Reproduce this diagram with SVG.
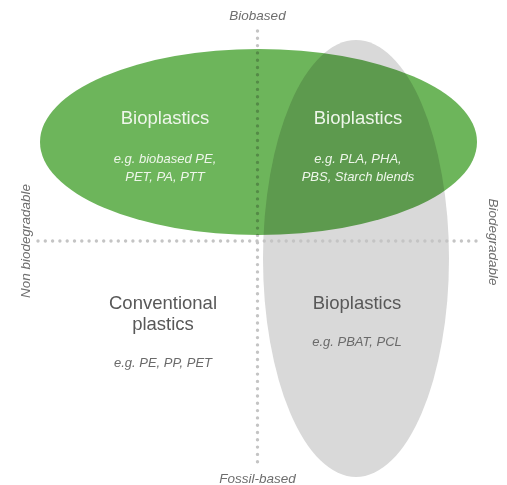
<svg xmlns="http://www.w3.org/2000/svg" width="507" height="485" viewBox="0 0 507 485">
<style>
.axis{font-family:"Liberation Sans",Arial,sans-serif;font-style:italic;font-size:13.5px;fill:#6e6e6e;text-anchor:middle}
.title{font-family:"Liberation Sans",Arial,sans-serif;font-size:18.5px;text-anchor:middle}
.ex{font-family:"Liberation Sans",Arial,sans-serif;font-style:italic;font-size:13px;text-anchor:middle}
.w{fill:#eef6ea}
.g{fill:#585858}
.gi{fill:#6a6a6a}
.dots{stroke:#c4c4c4;stroke-width:3.4;stroke-linecap:round;stroke-dasharray:0 7.3;fill:none}
</style>
<rect width="507" height="485" fill="#ffffff"/>
<g id="fossil-biodegradable-ellipse">
<ellipse cx="356" cy="258.5" rx="93" ry="218.5" fill="#d9d9d9"/>
</g>
<g id="connectors">
<line class="dots" x1="257.5" y1="31" x2="257.5" y2="466"/>
<line class="dots" x1="38" y1="241" x2="478" y2="241"/>
</g>
<g id="biobased-ellipse">
<ellipse cx="258.5" cy="142" rx="218.5" ry="93" fill="#6db55b" style="mix-blend-mode:multiply"/>
</g>
<g id="bio-nonbiodegradable">
<text class="title w" x="165" y="124">Bioplastics</text>
<text class="ex w" x="165" y="163">e.g. biobased PE,</text>
<text class="ex w" x="165" y="181">PET, PA, PTT</text>
</g>
<g id="bio-biodegradable">
<text class="title w" x="358" y="124">Bioplastics</text>
<text class="ex w" x="358" y="163">e.g. PLA, PHA,</text>
<text class="ex w" x="358" y="181">PBS, Starch blends</text>
</g>
<g id="conventional">
<text class="title g" x="163" y="309">Conventional</text>
<text class="title g" x="163" y="330">plastics</text>
<text class="ex gi" x="163" y="367">e.g. PE, PP, PET</text>
</g>
<g id="fossil-biodegradable">
<text class="title g" x="357" y="309">Bioplastics</text>
<text class="ex gi" x="357" y="346">e.g. PBAT, PCL</text>
</g>
<g id="axis-labels">
<text class="axis" x="257.5" y="20">Biobased</text>
<text class="axis" x="257.5" y="483">Fossil-based</text>
<text class="axis" transform="translate(30,241) rotate(-90)">Non biodegradable</text>
<text class="axis" transform="translate(489,242) rotate(90)">Biodegradable</text>
</g>
</svg>
